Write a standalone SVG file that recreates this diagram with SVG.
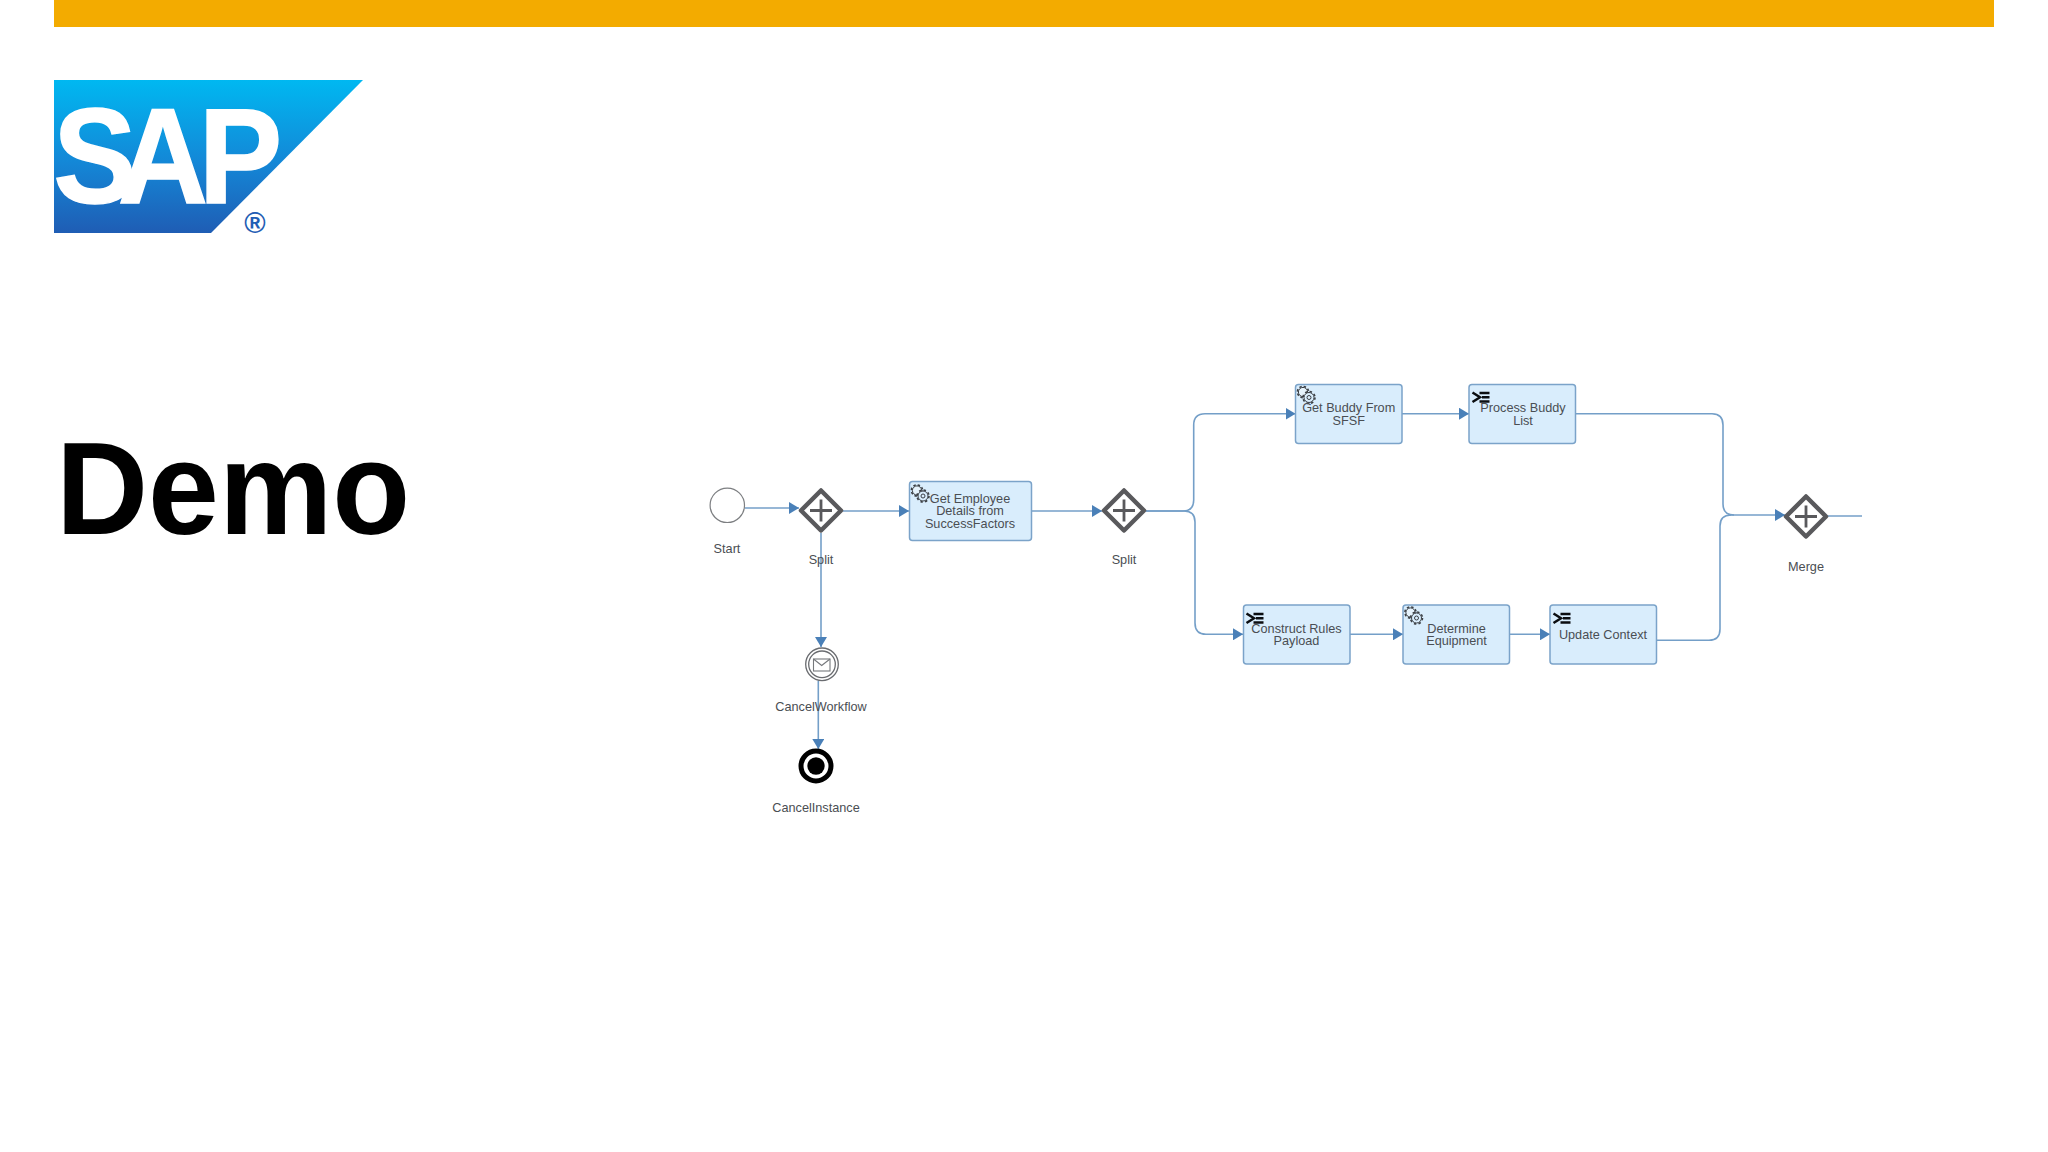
<svg xmlns="http://www.w3.org/2000/svg" xmlns:xlink="http://www.w3.org/1999/xlink" width="2048" height="1152" viewBox="0 0 2048 1152">
<style>
text{font-family:"Liberation Sans",Arial,sans-serif}
.lb{font-size:12.7px;fill:#4a4e53;text-anchor:middle}
.task{fill:#d9edfc;stroke:#7ba3c9;stroke-width:1.5}
.gw{fill:#fff;stroke:#59595c;stroke-width:4.5;stroke-linejoin:round}
.plus{fill:none;stroke:#59595c;stroke-width:2.8}
.cn{fill:none;stroke:#749fc8;stroke-width:1.6}
</style>
<defs>
<linearGradient id="sapg" x1="0" y1="0" x2="0" y2="1"><stop offset="0" stop-color="#00b8f1"/><stop offset=".55" stop-color="#1486d6"/><stop offset="1" stop-color="#1f5db4"/></linearGradient>
<marker id="ah" markerUnits="userSpaceOnUse" markerWidth="11" markerHeight="12" refX="10" refY="6" orient="auto"><path d="M0 0L10 6L0 12Z" fill="#4a80b8"/></marker>
<g id="gear"><circle cx="-2" cy="-0.5" r="5.6" fill="none" stroke="#3b3f44" stroke-width="1.6" stroke-dasharray="2.4 2"/><circle cx="-2" cy="-0.5" r="4.6" fill="#e6f3fc" stroke="#3b3f44" stroke-width="1"/><circle cx="4" cy="5" r="6" fill="none" stroke="#3b3f44" stroke-width="1.6" stroke-dasharray="2.4 2.3"/><circle cx="4" cy="5" r="5" fill="#d9edfc" stroke="#3b3f44" stroke-width="1"/><circle cx="4" cy="5" r="2" fill="none" stroke="#3b3f44" stroke-width="1"/></g>
<g id="scr"><path d="M0 0.5L7.5 5.3L0 10" fill="none" stroke="#0b0d10" stroke-width="2.5"/><path d="M7 1H17M9.5 5.3H17M7 9.6H17" fill="none" stroke="#0b0d10" stroke-width="2.5"/></g>
<g id="plusgw"><path class="gw" d="M0 -20L20 0L0 20L-20 0Z"/><path class="plus" d="M0 -11V11M-11 0H11"/></g>
</defs>
<rect width="2048" height="1152" fill="#fff"/>
<rect x="54" y="0" width="1940" height="27" fill="#f3ab00"/>
<g id="logo">
<path d="M54 80H363L211 233H54Z" fill="url(#sapg)"/>
<text transform="scale(.92 1)" y="203" x="58 128 216" font-size="136" font-weight="700" fill="#fff" stroke="#fff" stroke-width="1.5">SAP</text>
<text x="255" y="233" font-size="29" font-weight="700" fill="#1f5db4" text-anchor="middle">®</text>
</g>
<text id="title" transform="translate(56 534.3) scale(1.012 1.05)" font-size="126" font-weight="700" fill="#000">Demo</text>
<g id="connectors">
<path class="cn" marker-end="url(#ah)" d="M745 508H799"/>
<path class="cn" marker-end="url(#ah)" d="M843 511H909"/>
<path class="cn" marker-end="url(#ah)" d="M821 533V647"/>
<path class="cn" marker-end="url(#ah)" d="M818.3 681V749"/>
<path class="cn" marker-end="url(#ah)" d="M1032 511H1102"/>
<path class="cn" marker-end="url(#ah)" d="M1146 511H1183Q1193.7 511 1193.7 500V425Q1193.7 413.7 1205 413.7H1295.5"/>
<path class="cn" marker-end="url(#ah)" d="M1146 511H1184Q1195 511 1195 522V623Q1195 634.3 1206 634.3H1243"/>
<path class="cn" marker-end="url(#ah)" d="M1402 413.7H1469"/>
<path class="cn" marker-end="url(#ah)" d="M1350 634.3H1403"/>
<path class="cn" marker-end="url(#ah)" d="M1510 634.3H1550"/>
<path class="cn" d="M1576 413.7H1712Q1723 413.7 1723 425V504Q1723 515 1734 515"/>
<path class="cn" d="M1657 640.3H1709Q1720 640.3 1720 629V526Q1720 515 1731 515"/>
<path class="cn" marker-end="url(#ah)" d="M1728 515H1785"/>
<path class="cn" d="M1828 516H1862"/>
</g>
<g id="start"><circle cx="727.3" cy="505.3" r="17.2" fill="#fff" stroke="#7d7f82" stroke-width="1.2"/><text class="lb" x="727" y="552.5">Start</text></g>
<g id="split1"><use xlink:href="#plusgw" href="#plusgw" x="821" y="510.5"/><text class="lb" x="821" y="564">Split</text></g>
<g id="task-employee"><rect class="task" x="909.5" y="481.5" width="122" height="59" rx="3"/><use xlink:href="#gear" href="#gear" x="919" y="491"/><text class="lb" x="970" y="502.5">Get Employee</text><text class="lb" x="970" y="515">Details from</text><text class="lb" x="970" y="528">SuccessFactors</text></g>
<g id="split2"><use xlink:href="#plusgw" href="#plusgw" x="1124" y="510.5"/><text class="lb" x="1124" y="564">Split</text></g>
<g id="cancel-workflow"><circle cx="822" cy="664.3" r="16.3" fill="#fff" stroke="#6a6c70" stroke-width="1.3"/><circle cx="822" cy="664.3" r="13.3" fill="#fff" stroke="#6a6c70" stroke-width="1.3"/><rect x="813.5" y="659" width="16.5" height="12" fill="none" stroke="#76787c" stroke-width="1.1"/><path d="M813.5 659L821.7 665.5L830 659" fill="none" stroke="#76787c" stroke-width="1.1"/><text class="lb" x="821" y="710.5">CancelWorkflow</text></g>
<g id="cancel-instance"><circle cx="816" cy="766" r="15" fill="#fff" stroke="#000" stroke-width="5"/><circle cx="816" cy="766" r="8.7" fill="#000"/><text class="lb" x="816" y="812">CancelInstance</text></g>
<g id="task-buddy"><rect class="task" x="1295.5" y="384.5" width="106.5" height="59" rx="3"/><use xlink:href="#gear" href="#gear" x="1305" y="392.5"/><text class="lb" x="1348.7" y="412">Get Buddy From</text><text class="lb" x="1348.7" y="424.7">SFSF</text></g>
<g id="task-process"><rect class="task" x="1469" y="384.5" width="106.5" height="59" rx="3"/><use xlink:href="#scr" href="#scr" x="1472.5" y="392"/><text class="lb" x="1523" y="412">Process Buddy</text><text class="lb" x="1523" y="424.7">List</text></g>
<g id="task-construct"><rect class="task" x="1243.5" y="605" width="106.5" height="59" rx="3"/><use xlink:href="#scr" href="#scr" x="1246.5" y="613"/><text class="lb" x="1296.5" y="632.7">Construct Rules</text><text class="lb" x="1296.5" y="645.3">Payload</text></g>
<g id="task-equipment"><rect class="task" x="1403" y="605" width="106.5" height="59" rx="3"/><use xlink:href="#gear" href="#gear" x="1412.5" y="613"/><text class="lb" x="1456.5" y="632.7">Determine</text><text class="lb" x="1456.5" y="645.3">Equipment</text></g>
<g id="task-update"><rect class="task" x="1550" y="605" width="106.5" height="59" rx="3"/><use xlink:href="#scr" href="#scr" x="1553.5" y="613"/><text class="lb" x="1603" y="639.3">Update Context</text></g>
<g id="merge"><use xlink:href="#plusgw" href="#plusgw" x="1806" y="516.5"/><text class="lb" x="1806" y="571">Merge</text></g>
</svg>
